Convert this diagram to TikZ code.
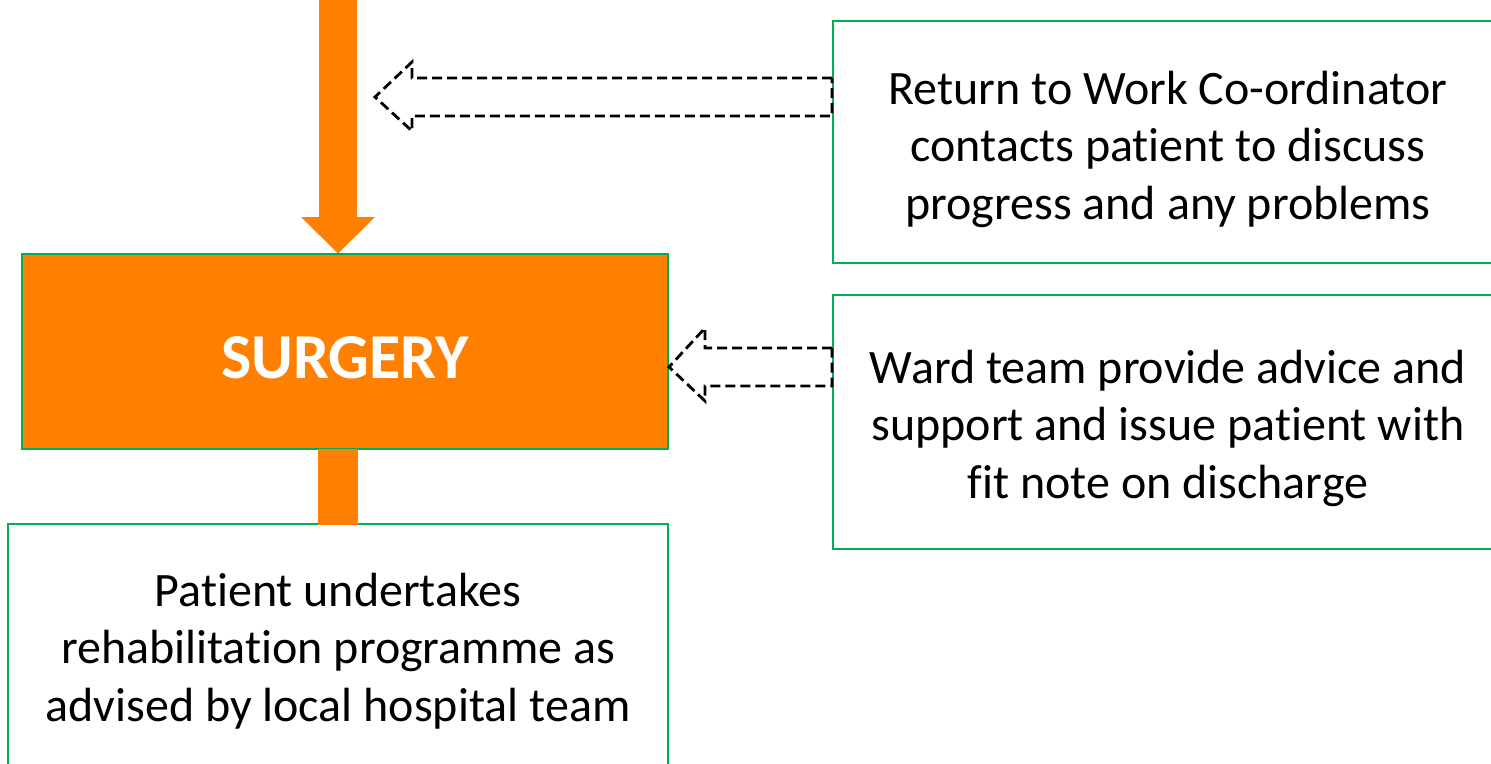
\documentclass[tikz,border=0pt]{standalone}
\usepackage{fontspec}
\setmainfont{Carlito}[Ligatures=NoCommon]
\definecolor{flowOrange}{RGB}{255,127,0}
\definecolor{flowGreen}{RGB}{0,176,80}
\tikzset{
  greenbox/.style={draw=flowGreen, line width=2pt, rectangle, inner sep=0pt},
  boxtext/.style={align=center, inner sep=0pt, font=\fontsize{48}{57.5}\selectfont},
  dasharrow/.style={draw=black, line width=2.8pt, dash pattern=on 10pt off 5pt, line join=miter},
  orangefill/.style={fill=flowOrange, draw=none}
}
\begin{document}
\begin{tikzpicture}[x=1pt, y=-1pt]
  \useasboundingbox (0,0) rectangle (1491,763);
  \clip (0,0) rectangle (1491,763);

  % incoming flow into the surgery step
  \fill[flowOrange] (319,-10) -- (357,-10) -- (357,217) -- (375,217)
        -- (338,253.5) -- (301,217) -- (319,217) -- cycle;

  % boxes
  \node[greenbox, fill=flowOrange, minimum width=646pt, minimum height=195pt]
        (surgery) at (345,351.5) {};
  \node[font=\fontsize{64}{70}\selectfont\bfseries, text=white, inner sep=0pt]
        (surgerytext) at (345,358) {SURGERY};

  \node[greenbox, minimum width=660pt, minimum height=260pt] (rehab) at (338,654) {};
  \node[boxtext, anchor=base] (rehabtext) at (338,721)
        {Patient undertakes\\rehabilitation programme as\\advised by local hospital team};

  \node[greenbox, minimum width=680pt, minimum height=242pt] (rtw) at (1173,142) {};
  \node[boxtext, anchor=base] (rtwtext) at (1168,219)
        {Return to Work Co-ordinator\\contacts patient to discuss\\progress and any problems};

  \node[greenbox, minimum width=680pt, minimum height=254pt] (ward) at (1173,422) {};
  \node[boxtext, anchor=base] (wardtext) at (1168,498)
        {Ward team provide advice and\\support and issue patient with\\fit note on discharge};

  % outflow from surgery to rehabilitation
  \fill[flowOrange] (318,449) rectangle (358,525);

  % dashed block arrows feeding back into the main flow
  \coordinate (tipA) at (375,97);
  \draw[dasharrow] (rtw.west |- 0,78) -- (412,78) -- (412,62) -- (tipA)
        -- (412,131) -- (412,116) -- (rtw.west |- 0,116) -- cycle;

  \coordinate (tipB) at (surgery.east |- 0,367);
  \draw[dasharrow] (ward.west |- 0,348) -- (705,348) -- (705,328) -- (tipB)
        -- (705,401) -- (705,386) -- (ward.west |- 0,386) -- cycle;
\end{tikzpicture}
\end{document}
